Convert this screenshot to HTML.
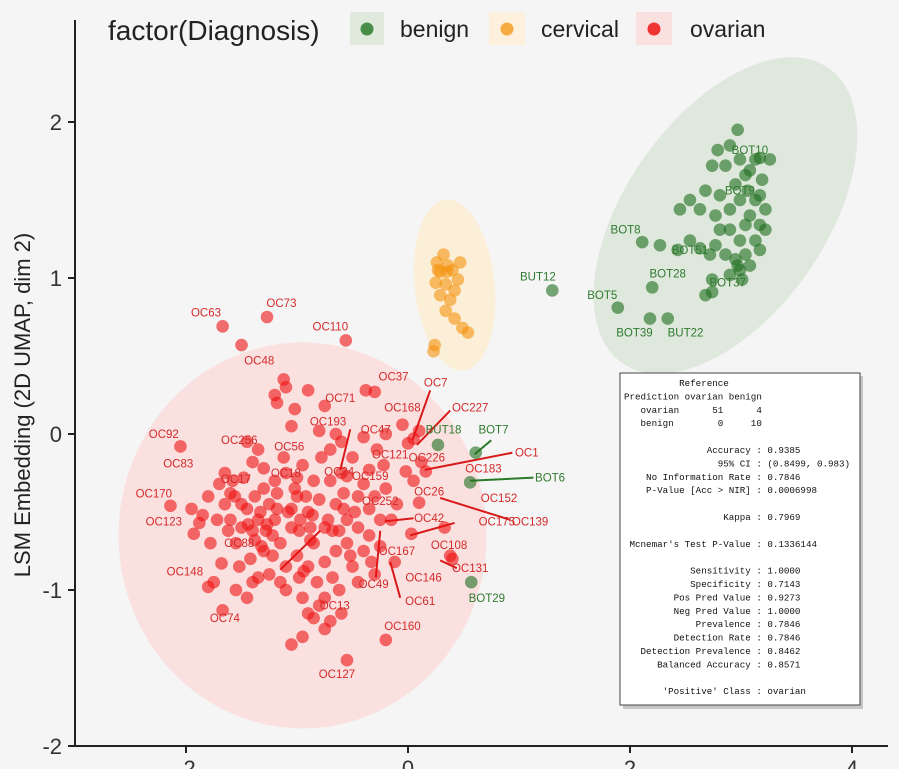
<!DOCTYPE html>
<html><head><meta charset="utf-8"><style>
body{margin:0;background:#f5f5f5;}
svg{display:block;font-family:"Liberation Sans",sans-serif;}
</style></head><body>
<svg id="chart" width="899" height="769" viewBox="0 0 899 769" xmlns="http://www.w3.org/2000/svg">
<rect width="899" height="769" fill="#f5f5f5"/>
<g id="ellipses"></g>
<g id="segs"></g>
<g id="pts"></g>
<g id="labs"></g>
<g id="axes"></g>
<g>
<text x="108" y="40" font-size="28" fill="#222">factor(Diagnosis)</text>
<g><rect x="350" y="12" width="34" height="33" fill="#dfeadc"/><circle cx="367" cy="29" r="6.5" fill="#2e7d2e" opacity="0.85"/><text x="400" y="37" font-size="23" fill="#222">benign</text></g>
<g><rect x="489" y="12" width="36" height="33" fill="#fdf0dc"/><circle cx="507" cy="29" r="6.5" fill="#f6a431" opacity="0.9"/><text x="541" y="37" font-size="23" fill="#222">cervical</text></g>
<g><rect x="636" y="12" width="36" height="33" fill="#fbe0e0"/><circle cx="654" cy="29" r="6.5" fill="#ee2020" opacity="0.9"/><text x="690" y="37" font-size="23" fill="#222">ovarian</text></g>
</g>
<g>
<rect x="623" y="376" width="240" height="333" fill="#999" opacity="0.5"/>
<rect x="620" y="373" width="240" height="332" fill="#fff" stroke="#444" stroke-width="1"/>
<text id="stats" font-family="Liberation Mono, monospace" font-size="9.2" fill="#111" xml:space="preserve"></text>
</g>
</svg>
<script>
const NS="http://www.w3.org/2000/svg";
function X(v){return 408+v*111;}
function Y(v){return 434-v*156;}
const xTicks=[-2,0,2,4];
const yTicks=[2,1,0,-1,-2];
const ovX=[-1.67,-1.27,-0.56,-1.50,-2.05,-2.14,-1.93,-1.80,-1.67,-0.55,-0.20,-0.12,0.03,0.40,0.38,0.33,0.16,0.12,0.05,0.10,-0.05,0.00,-0.30,-0.38,-0.55,-0.90,-1.10,-1.12,-1.20,-1.18,-1.02,-0.75,-0.35,-0.60,-0.70,-0.40,-1.05,-0.80,-1.40,-1.30,-1.70,-1.60,-1.85,-1.78,-1.68,-1.88,-1.75,-1.55,-1.45,-1.35,-1.25,-1.10,-0.95,-0.80,-0.85,-0.75,-0.95,-1.05,-0.70,-0.60,-0.62,-0.50,-0.45,-0.30,-0.25,-0.25,-0.15,-0.35,-0.45,-0.55,-0.65,-0.75,-0.85,-0.90,-1.00,-1.05,-1.15,-1.20,-1.25,-1.35,-1.40,-1.45,-1.50,-1.55,-1.60,-1.65,-1.30,-1.20,-1.10,-0.95,-0.85,-0.78,-0.70,-0.60,-0.50,-0.40,-0.30,-0.20,-0.10,-0.35,-0.45,-0.55,-0.65,-0.75,-0.90,-1.00,-1.10,-1.22,-1.32,-1.42,-1.50,-1.58,-1.48,-1.38,-1.28,-1.18,-1.08,-0.98,-0.88,-0.80,-0.68,-0.58,-0.48,-1.62,-1.72,-1.52,-1.40,-1.15,-0.98,-0.82,-0.68,-0.90,-0.75,-0.22,0.05,0.10,-0.02,-0.20,-0.28,-1.35,-1.45,-1.65,-1.80,-1.95,-0.92,-1.00,-1.12,-0.65,-1.33,-1.27,-1.22,-1.38,-1.30,-1.05,-0.97,-0.88,-0.72,-0.62,-0.52,-1.18,-1.02,-0.86,-0.40,-0.33,-1.44,-1.56,-0.94,-0.58];
const ovY=[0.69,0.75,0.60,0.57,-0.08,-0.46,-0.64,-0.98,-1.13,-1.45,-1.32,-0.82,-0.64,-0.80,-0.78,-0.60,-0.24,-0.18,-0.03,0.02,0.06,-0.06,0.27,0.28,-0.27,0.28,0.30,0.35,0.25,0.20,0.16,0.18,-0.23,-0.05,-0.10,-0.02,0.05,0.02,-0.18,-0.22,-0.32,-0.38,-0.52,-0.70,-0.83,-0.57,-0.95,-1.00,-1.05,-0.92,-0.90,-1.00,-1.05,-1.10,-1.18,-1.25,-1.30,-1.35,-1.20,-1.15,-1.00,-0.85,-0.95,-0.90,-0.72,-0.55,-0.55,-0.48,-0.40,-0.55,-0.45,-0.60,-0.70,-0.50,-0.40,-0.60,-0.70,-0.55,-0.45,-0.55,-0.62,-0.48,-0.60,-0.70,-0.55,-0.45,-0.35,-0.30,-0.25,-0.20,-0.30,-0.15,-0.30,-0.25,-0.15,-0.32,-0.40,-0.35,-0.45,-0.65,-0.60,-0.70,-0.75,-0.82,-0.85,-0.78,-0.85,-0.78,-0.72,-0.80,-0.45,-0.30,-0.28,-0.40,-0.62,-0.48,-0.50,-0.62,-0.60,-0.42,-0.62,-0.38,-0.50,-0.62,-0.55,-0.85,-0.95,-0.95,-0.92,-0.95,-0.92,-1.15,-1.05,-0.20,-0.30,-0.44,-0.24,0.00,-0.10,-0.10,-0.05,-0.25,-0.40,-0.48,-0.40,-0.28,-0.15,0.00,-0.50,-0.58,-0.65,-0.68,-0.75,-0.48,-0.55,-0.68,-0.55,-0.62,-0.78,-0.38,-0.35,-0.52,-0.75,-0.82,-0.58,-0.40,-0.88,-0.48];
const cvX=[0.26,0.32,0.36,0.29,0.40,0.25,0.34,0.45,0.29,0.38,0.34,0.42,0.49,0.54,0.24,0.23,0.35,0.47,0.27,0.42];
const cvY=[1.10,1.15,1.08,1.04,1.05,0.97,0.96,0.99,0.89,0.86,0.79,0.74,0.68,0.65,0.57,0.53,1.04,1.10,1.05,0.92];
const bnX=[1.30,1.89,2.18,2.34,2.20,2.11,2.27,2.43,2.54,2.63,2.77,2.81,2.72,2.95,2.99,3.04,3.13,3.17,3.08,3.22,2.99,2.90,2.77,2.63,2.54,2.45,2.81,2.95,3.04,3.13,2.99,3.08,3.17,2.97,2.90,2.86,2.74,2.68,3.17,3.13,3.04,2.90,2.99,2.86,2.97,2.74,2.74,2.68,2.90,3.01,3.08,3.17,3.22,3.06,3.19,3.26,2.79,0.27,0.61,0.56,0.57];
const bnY=[0.92,0.81,0.74,0.74,0.94,1.23,1.21,1.18,1.24,1.19,1.21,1.31,1.15,1.12,1.05,1.15,1.24,1.34,1.40,1.44,1.50,1.44,1.40,1.44,1.50,1.44,1.53,1.60,1.66,1.76,1.76,1.69,1.77,1.95,1.85,1.72,1.72,1.56,1.53,1.50,1.34,1.31,1.24,1.15,1.08,0.99,0.91,0.89,1.02,0.99,1.08,1.18,1.31,1.56,1.63,1.76,1.82,-0.07,-0.12,-0.31,-0.95];
const labText=["OC63","OC73","OC110","OC48","OC37","OC7","OC71","OC168","OC227","OC193","OC47","BUT18","BOT7","OC92","OC256","OC56","OC121","OC226","OC1","OC183","OC83","BOT6","OC159","OC26","OC170","OC152","OC252","OC123","OC42","OC175","OC139","OC108","OC167","OC131","OC146","OC148","OC49","BOT29","OC61","OC74","OC160","OC127","OC13","OC17","OC18","OC24","OC88","BOT10","BOT8","BOT28","BOT5","BOT39","BUT22","BUT12","BOT51","BOT37","BOT9"];
const labX=[-1.82,-1.14,-0.70,-1.34,-0.13,0.25,-0.61,-0.05,0.56,-0.72,-0.29,0.32,0.77,-2.20,-1.52,-1.07,-0.16,0.17,1.07,0.68,-2.07,1.28,-0.34,0.19,-2.29,0.82,-0.25,-2.20,0.19,0.80,1.10,0.37,-0.10,0.56,0.14,-2.01,-0.31,0.71,0.11,-1.65,-0.05,-0.64,-0.66,-1.55,-1.10,-0.62,-1.52,3.08,1.96,2.34,1.75,2.04,2.50,1.17,2.54,2.88,2.99];
const labY=[0.78,0.84,0.69,0.47,0.37,0.33,0.23,0.17,0.17,0.08,0.03,0.03,0.03,0.00,-0.04,-0.08,-0.13,-0.15,-0.12,-0.22,-0.19,-0.28,-0.27,-0.37,-0.38,-0.41,-0.43,-0.56,-0.54,-0.56,-0.56,-0.71,-0.75,-0.86,-0.92,-0.88,-0.96,-1.05,-1.07,-1.18,-1.23,-1.54,-1.10,-0.29,-0.25,-0.24,-0.70,1.82,1.31,1.03,0.89,0.65,0.65,1.01,1.18,0.97,1.56];
const labGrp=["o","o","o","o","o","o","o","o","o","o","o","b","b","o","o","o","o","o","o","o","o","b","o","o","o","o","o","o","o","o","o","o","o","o","o","o","o","b","o","o","o","o","o","o","o","o","o","b","b","b","b","b","b","b","b","b","b"];
const segX1=[0.20,0.38,0.75,0.94,1.13,0.92,0.05,0.42,0.44,-0.07,-0.29,-1.15,-0.52];
const segY1=[0.28,0.15,-0.04,-0.12,-0.28,-0.55,-0.54,-0.57,-0.86,-1.05,-0.92,-0.87,0.03];
const segX2=[0.04,0.08,0.60,0.15,0.56,0.29,-0.21,0.02,0.29,-0.16,-0.25,-0.79,-0.61];
const segY2=[-0.04,-0.07,-0.13,-0.23,-0.30,-0.41,-0.56,-0.65,-0.81,-0.82,-0.62,-0.62,-0.23];
const segGrp=["o","o","b","o","b","o","o","o","o","o","o","o","o"];
const statLines=["          Reference","Prediction ovarian benign","   ovarian      51      4","   benign        0     10","","               Accuracy : 0.9385","                 95% CI : (0.8499, 0.983)","    No Information Rate : 0.7846","    P-Value [Acc > NIR] : 0.0006998","","                  Kappa : 0.7969",""," Mcnemar's Test P-Value : 0.1336144","","            Sensitivity : 1.0000","            Specificity : 0.7143","         Pos Pred Value : 0.9273","         Neg Pred Value : 1.0000","             Prevalence : 0.7846","         Detection Rate : 0.7846","   Detection Prevalence : 0.8462","      Balanced Accuracy : 0.8571","","       'Positive' Class : ovarian"];

function mk(tag,attrs,parent){const e=document.createElementNS(NS,tag);for(const k in attrs)e.setAttribute(k,attrs[k]);parent.appendChild(e);return e;}
const gE=document.getElementById('ellipses');
let e;
e=mk('ellipse',{cx:X(-0.95),cy:Y(-0.65),rx:184,ry:193,fill:'#fbdcdc',opacity:0.85},gE);


e=mk('ellipse',{cx:X(0.42),cy:Y(0.955),rx:40,ry:86,fill:'#fdeed5',opacity:0.9,transform:`rotate(-6 ${X(0.42)} ${Y(0.955)})`},gE);


e=mk('ellipse',{cx:X(2.86),cy:Y(1.40),rx:180,ry:100,fill:'#dde7da',opacity:0.95,transform:`rotate(-55 ${X(2.86)} ${Y(1.40)})`},gE);



const gS=document.getElementById('segs');
for(let i=0;i<segX1.length;i++){
  const l=mk('line',{x1:X(segX1[i]),y1:Y(segY1[i]),x2:X(segX2[i]),y2:Y(segY2[i]),stroke:segGrp[i]==='o'?'#d81a1a':'#2a7a2a','stroke-width':2},gS);
  
  
}
const gP=document.getElementById('pts');
function drawPts(xs,ys,fill,name){
  for(let i=0;i<xs.length;i++){
    const c=mk('circle',{cx:X(xs[i]),cy:Y(ys[i]),r:6.3,fill:fill,'fill-opacity':0.6},gP);
    
    
  }
}
drawPts(ovX,ovY,'#ee1111','ovarian-point');
drawPts(cvX,cvY,'#f3920f','cervical-point');
drawPts(bnX,bnY,'#1e6e1e','benign-point');

const gL=document.getElementById('labs');
for(let i=0;i<labText.length;i++){
  const t=mk('text',{x:X(labX[i]),y:Y(labY[i])+4,'text-anchor':'middle','font-size':11.5,fill:labGrp[i]==='o'?'#d42a2a':'#2f7a2f'},gL);
  t.textContent=labText[i];
  
  
}
const gA=document.getElementById('axes');
let a=mk('line',{x1:75,y1:20,x2:75,y2:747,stroke:'#222','stroke-width':2},gA);


a=mk('line',{x1:74,y1:746,x2:888,y2:746,stroke:'#222','stroke-width':2},gA);


for(const v of yTicks){
  mk('line',{x1:68,x2:75,y1:Y(v),y2:Y(v),stroke:'#222','stroke-width':2},gA);
  const t=mk('text',{x:62,y:Y(v)+8,'text-anchor':'end','font-size':22,fill:'#333'},gA);
  t.textContent=v;
  
  
}
for(const v of xTicks){
  mk('line',{x1:X(v),x2:X(v),y1:746,y2:753,stroke:'#222','stroke-width':2},gA);
  const t=mk('text',{x:X(v),y:776,'text-anchor':'middle','font-size':22,fill:'#333'},gA);
  t.textContent=v;
  
  
}
const yt=mk('text',{x:0,y:0,'text-anchor':'middle','font-size':22,fill:'#222',transform:'translate(30 405) rotate(-90)'},gA);
yt.textContent='LSM Embedding (2D UMAP, dim 2)';



const st=document.getElementById('stats');
statLines.forEach((s,i)=>{
  const ts=mk('tspan',{x:624,y:386+i*13.4},st);
  ts.textContent=s;
});
</script>
</body></html>
